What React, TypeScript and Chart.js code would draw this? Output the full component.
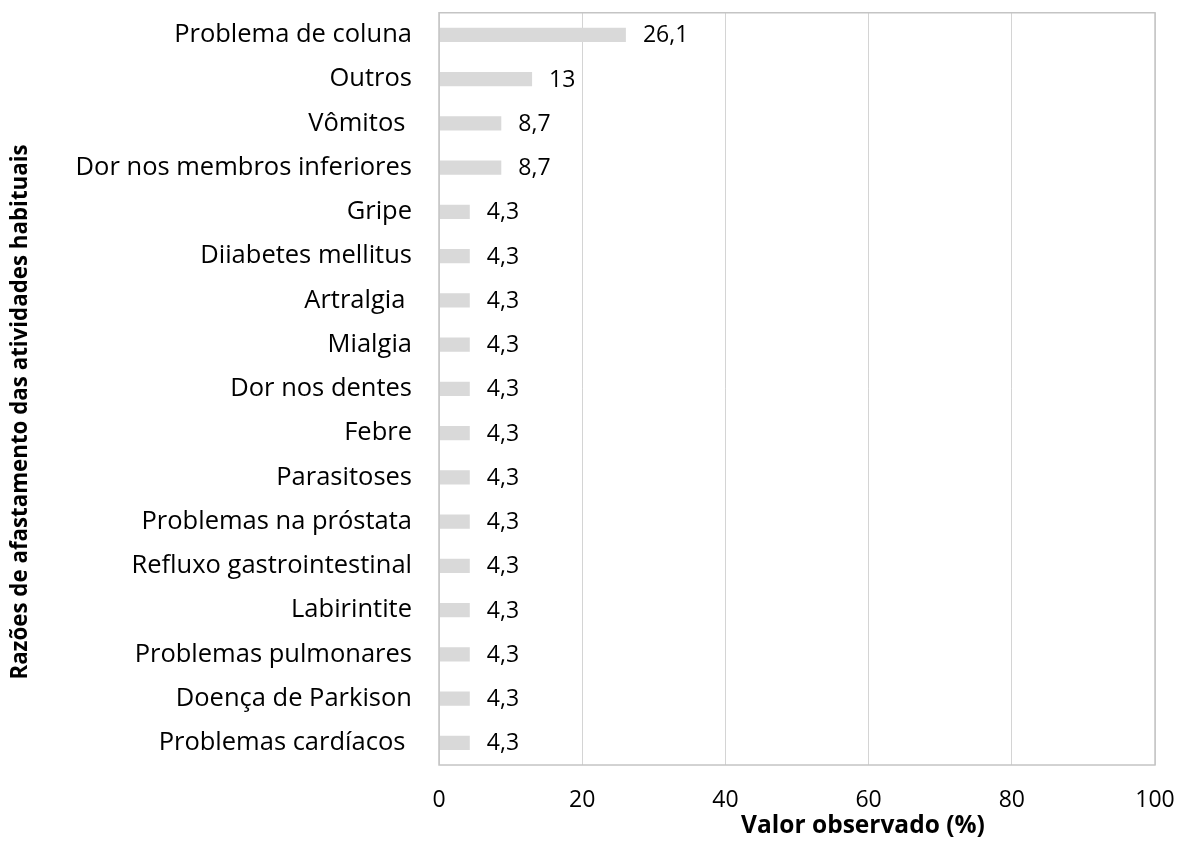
import React, { useEffect, useRef } from "react";
import { Chart, registerables } from "chart.js";

Chart.register(...registerables);

const categories = [
  "Problema de coluna",
  "Outros",
  "Vômitos ",
  "Dor nos membros inferiores",
  "Gripe",
  "Diiabetes mellitus",
  "Artralgia ",
  "Mialgia",
  "Dor nos dentes",
  "Febre",
  "Parasitoses",
  "Problemas na próstata",
  "Refluxo gastrointestinal",
  "Labirintite",
  "Problemas pulmonares",
  "Doença de Parkison",
  "Problemas cardíacos ",
];

const values = [26.1, 13, 8.7, 8.7, 4.3, 4.3, 4.3, 4.3, 4.3, 4.3, 4.3, 4.3, 4.3, 4.3, 4.3, 4.3, 4.3];

const xTicks = [0, 20, 40, 60, 80, 100];

const xTitle = "Valor observado (%)";
const yTitle = "Razões de afastamento das atividades habituais";

const FONT = "'Open Sans', 'Noto Sans', sans-serif";
const CLEAR = "rgba(0,0,0,0)";

const fmt = (v: number) => String(v).replace(".", ",");

const extrasPlugin = {
  id: "extras",
  afterDatasetsDraw(chart: any) {
    const ctx = chart.ctx;
    const meta = chart.getDatasetMeta(0);
    ctx.save();
    ctx.font = `23px ${FONT}`;
    ctx.fillStyle = "#000";
    ctx.textAlign = "left";
    ctx.textBaseline = "middle";
    meta.data.forEach((el: any, i: number) => {
      ctx.fillText(fmt(values[i]), el.x + 17, el.y + 1);
    });
    ctx.restore();
  },
  afterDraw(chart: any) {
    const ctx = chart.ctx;
    const a = chart.chartArea;
    ctx.save();
    ctx.strokeStyle = "#c4c4c4";
    ctx.lineWidth = 1.5;
    ctx.strokeRect(a.left, a.top, a.right - a.left, a.bottom - a.top);
    ctx.fillStyle = "#000";
    ctx.textAlign = "center";
    ctx.textBaseline = "middle";
    ctx.font = `bold 24.5px ${FONT}`;
    ctx.fillText(xTitle, 863, 826);
    ctx.translate(21, 412);
    ctx.rotate(-Math.PI / 2);
    ctx.font = `bold 22.3px ${FONT}`;
    ctx.fillText(yTitle, 0, 0);
    ctx.restore();
  },
};

export default function App() {
  const ref = useRef<HTMLCanvasElement | null>(null);
  useEffect(() => {
    document.body.style.margin = "0";
    const canvas = ref.current!;
    const chart = new Chart(canvas, {
      type: "bar",
      data: {
        labels: categories,
        datasets: [
          {
            data: values,
            backgroundColor: "#d9d9d9",
            borderWidth: 0,
            barPercentage: 0.32,
            categoryPercentage: 1,
          },
        ],
      },
      options: {
        indexAxis: "y",
        animation: false,
        responsive: false,
        maintainAspectRatio: false,
        layout: { padding: { top: 12, right: 25, left: 0, bottom: 0 } },
        plugins: { legend: { display: false }, tooltip: { enabled: false } },
        scales: {
          x: {
            min: 0,
            max: 100,
            afterBuildTicks: (s: any) => {
              s.ticks = xTicks.map((v) => ({ value: v }));
            },
            afterFit: (s: any) => {
              s.height = 80;
            },
            grid: {
              color: "#d4d4d4",
              lineWidth: 1,
              drawTicks: true,
              tickLength: 22,
              tickColor: CLEAR,
            },
            border: { display: false },
            ticks: {
              padding: 0,
              color: "#000",
              font: { family: FONT, size: 23 },
            },
          },
          y: {
            afterFit: (s: any) => {
              s.width = 439;
            },
            grid: {
              display: true,
              drawOnChartArea: false,
              drawTicks: true,
              tickLength: 27,
              color: CLEAR,
              tickColor: CLEAR,
            },
            border: { display: false },
            ticks: {
              padding: 0,
              color: "#000",
              autoSkip: false,
              font: { family: FONT, size: 25.5, lineHeight: 1 },
            },
          },
        },
      },
      plugins: [extrasPlugin],
    });
    return () => chart.destroy();
  }, []);
  return <canvas ref={ref} width={1180} height={845} style={{ display: "block" }} />;
}
